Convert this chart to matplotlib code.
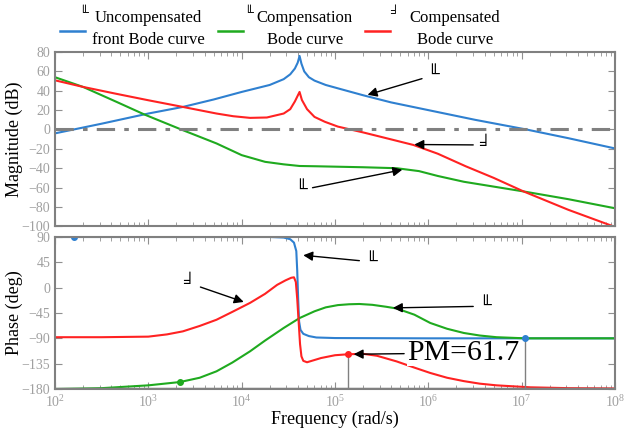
import numpy as np
import matplotlib
matplotlib.use("Agg")
import matplotlib.pyplot as plt
from matplotlib.lines import Line2D

plt.rcParams['font.family'] = ['Liberation Serif', 'DejaVu Sans']
plt.rcParams['mathtext.fontset'] = 'stix'

# magnitude curves (log10 of frequency, dB)
mag_blue_x = [2.0, 2.5, 3.0, 3.37, 3.7, 4.0, 4.3, 4.45, 4.52, 4.57, 4.6, 4.62, 4.64, 4.67, 4.72, 4.78, 4.9, 5.05, 5.3, 5.6, 6.0, 6.5, 7.05, 7.5, 8.0]
mag_blue_y = [-4, 6, 16.5, 23.3, 31, 38.8, 46, 52, 57, 63, 69, 76, 68, 60, 54, 50.5, 46, 42, 35.4, 28, 20, 10, 0, -9, -19.6]

mag_red_x = [2.0, 2.3, 2.65, 3.0, 3.37, 3.73, 3.91, 4.09, 4.27, 4.45, 4.52, 4.57, 4.62, 4.645, 4.7, 4.78, 4.89, 5.03, 5.3, 5.55, 5.84, 6.1, 6.4, 6.7, 7.02, 7.5, 7.98]
mag_red_y = [50.8, 44, 37, 30.2, 23.3, 16.5, 13.7, 12, 12.4, 16.5, 21, 29, 38.8, 30.5, 21, 13, 8, 3, -3, -9, -16, -25, -38, -50, -64, -83, -100]

mag_green_x = [2.0, 2.3, 2.66, 2.96, 3.37, 3.73, 4.0, 4.25, 4.45, 4.62, 4.8, 5.05, 5.3, 5.66, 5.9, 6.1, 6.38, 6.7, 7.02, 7.5, 8.0]
mag_green_y = [54, 44, 28.5, 15.4, -0.7, -14.4, -26.5, -33.4, -36, -37.7, -38, -38.5, -39, -40, -43, -48, -54, -59, -64, -72, -81.4]

# phase curves (log10 of frequency, deg)
ph_blue_x = [2.0, 3.0, 4.0, 4.3, 4.45, 4.52, 4.56, 4.585, 4.595, 4.605, 4.615, 4.63, 4.66, 4.72, 4.8, 5.0, 6.0, 7.04, 8.0]
ph_blue_y = [90, 90, 90, 90, 89, 86, 80, 65, 30, -20, -60, -75, -82, -86, -88.5, -89.5, -90, -90, -90]

ph_red_x = [2.0, 2.5, 3.0, 3.2, 3.37, 3.55, 3.73, 3.9, 4.09, 4.25, 4.38, 4.47, 4.53, 4.56, 4.58, 4.595, 4.61, 4.625, 4.64, 4.66, 4.7, 4.75, 4.85, 5.0, 5.14, 5.3, 5.45, 5.66, 5.85, 6.02, 6.2, 6.38, 6.55, 6.73, 7.09, 7.5, 8.0]
ph_red_y = [-88, -88, -87, -83, -77.6, -68, -57, -43, -27, -11, 5, 13, 17.5, 18.4, 10, -20, -60, -100, -122, -130, -132.5, -130, -125, -120, -118.3, -117.5, -121, -131, -142, -151.5, -160, -166, -170.5, -173.5, -177, -178.5, -179]

ph_green_x = [2.0, 2.5, 3.0, 3.34, 3.55, 3.73, 3.9, 4.09, 4.25, 4.45, 4.62, 4.78, 4.9, 5.03, 5.15, 5.26, 5.4, 5.55, 5.66, 5.85, 6.02, 6.2, 6.38, 6.55, 6.73, 7.04, 8.0]
ph_green_y = [-180, -178.5, -173.5, -167.6, -160, -148.6, -133, -113, -94, -71.6, -54, -42, -35, -31, -29.5, -29, -30.5, -34, -37, -48, -62.7, -73, -80.5, -85, -88, -90, -90]

pm_x, pm_y = 5.14, -118.3
gc_x = 7.04

c_blue = '#2f80d0'
c_green = '#1faa1f'
c_red = '#ff2222'
c_gray = '#808080'

fig = plt.figure(figsize=(6.3, 4.4), dpi=100)
ax1 = fig.add_axes([0.0873, 0.4857, 0.889, 0.396])
ax2 = fig.add_axes([0.0873, 0.1159, 0.889, 0.3455])

ax1.plot(10.0 ** np.array(mag_blue_x), mag_blue_y, color=c_blue, lw=1.5)
ax1.plot(10.0 ** np.array(mag_green_x), mag_green_y, color=c_green, lw=1.5)
ax1.plot(10.0 ** np.array(mag_red_x), mag_red_y, color=c_red, lw=1.5)
ax1.axhline(0, color=c_gray, lw=2.2, ls=(0, (6, 3, 1.5, 3)))
ax1.set_ylim(-100, 80)
ax1.set_yticks(np.arange(-100, 81, 20))
ax1.set_ylabel("Magnitude (dB)", fontsize=13)

ax2.plot(10.0 ** np.array(ph_blue_x), ph_blue_y, color=c_blue, lw=1.5)
ax2.plot(10.0 ** np.array(ph_green_x), ph_green_y, color=c_green, lw=1.5)
ax2.plot(10.0 ** np.array(ph_red_x), ph_red_y, color=c_red, lw=1.5)
ax2.axhline(-180, color=c_gray, lw=2.5)
ax2.plot([10 ** pm_x, 10 ** pm_x], [-180, pm_y], color=c_gray, lw=1)
ax2.plot([10 ** gc_x, 10 ** gc_x], [-180, -90], color=c_gray, lw=1)
ax2.plot(10 ** pm_x, pm_y, 'o', color=c_red, ms=4)
ax2.plot(10 ** gc_x, -90, 'o', color=c_blue, ms=4)
ax2.plot(10 ** 2.2, 90, 'o', color=c_blue, ms=4)
ax2.plot(10 ** 3.34, -167.6, 'o', color=c_green, ms=4)
ax2.set_ylim(-180, 90)
ax2.set_yticks(np.arange(-180, 91, 45))
ax2.set_ylabel("Phase (deg)", fontsize=13)
ax2.set_xlabel("Frequency (rad/s)", fontsize=13, labelpad=1)

for ax in (ax1, ax2):
    ax.set_xscale('log')
    ax.set_xlim(1e2, 1e8)
    ax.tick_params(which='both', direction='in', top=True, right=True,
                   colors='#909090', labelsize=10, labelcolor='#a0a0a0')
    ax.tick_params(which='major', length=5)
    ax.tick_params(which='minor', length=3)
    ax.yaxis.set_label_coords(-0.058, 0.5)
    for s in ax.spines.values():
        s.set_color(c_gray)
        s.set_linewidth(1.5)
ax1.tick_params(labelbottom=False)

arrow = dict(arrowstyle='-|>', color='black', lw=1, mutation_scale=14)
ax1.annotate("\u2559", xy=(10 ** 5.32, 35), xytext=(10 ** 5.99, 56), fontsize=12,
             ha='left', va='center', arrowprops=arrow)
ax1.annotate("\u255b", xy=(10 ** 5.82, -15.5), xytext=(10 ** 6.54, -16), fontsize=12,
             ha='left', va='center', arrowprops=arrow)
ax1.annotate("\u2559", xy=(10 ** 5.75, -41), xytext=(10 ** 4.7, -62.5), fontsize=12,
             ha='right', va='center', arrowprops=arrow)
ax2.annotate("\u2559", xy=(10 ** 4.63, 58), xytext=(10 ** 5.32, 46), fontsize=12,
             ha='left', va='center', arrowprops=arrow)
ax2.annotate("\u255b", xy=(10 ** 4.05, -27), xytext=(10 ** 3.5, 8), fontsize=12,
             ha='right', va='center', arrowprops=arrow)
ax2.annotate("\u2559", xy=(10 ** 5.59, -36), xytext=(10 ** 6.54, -33), fontsize=12,
             ha='left', va='center', arrowprops=arrow)
ax2.annotate("PM=61.7", xy=(10 ** 5.17, pm_y), xytext=(10 ** 5.77, -116), fontsize=21.5,
             ha='left', va='center', arrowprops=arrow,
             bbox=dict(boxstyle='square,pad=0', fc='white', ec='none'))

# legend drawn by hand so the two-line labels sit as in the original
W, H = 630.0, 440.0
legend_colors = [c_blue, c_green, c_red]
handle_x0 = [60, 218, 365]
glyphs = ["\u2559", "\u2559", "\u255b"]
glyph_x = [84, 249, 395]
line1 = ["Uncompensated", "Compensation", "Compensated"]
line1_x = [148.5, 304.5, 455]
line2 = ["front Bode curve", "Bode curve", "Bode curve"]
line2_x = [148, 305.5, 455.5]
for i in range(3):
    fig.add_artist(Line2D([handle_x0[i] / W, (handle_x0[i] + 25) / W],
                          [1 - 31 / H, 1 - 31 / H], color=legend_colors[i], lw=1.8))
    fig.text(glyph_x[i] / W, 1 - 13 / H, glyphs[i], fontsize=9, ha='center', va='center')
    fig.text(line1_x[i] / W, 1 - 18 / H, line1[i], fontsize=12, ha='center', va='center')
    fig.text(line2_x[i] / W, 1 - 40 / H, line2[i], fontsize=12, ha='center', va='center')

fig.savefig("out.png", dpi=100)
